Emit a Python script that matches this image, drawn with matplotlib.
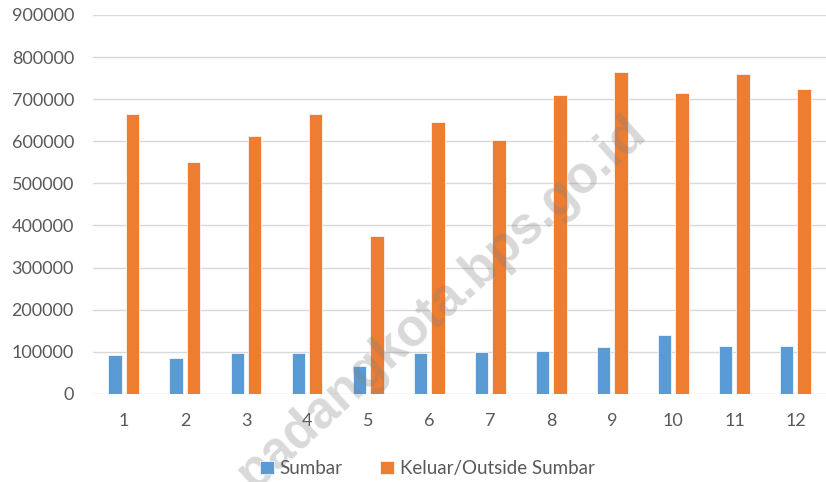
import numpy as np
import matplotlib
matplotlib.use("Agg")
import matplotlib.pyplot as plt

months = ["1", "2", "3", "4", "5", "6", "7", "8", "9", "10", "11", "12"]
sumbar = [92000, 85600, 96800, 95900, 66600, 95900, 98200, 102300, 110100, 138700, 113400, 112500]
outside = [663500, 551700, 613600, 664200, 375700, 646100, 602400, 711000, 763400, 714200, 760300, 722900]

plt.rcParams['font.family'] = ['Lato', 'DejaVu Sans']

fig = plt.figure(figsize=(8.26, 4.82), dpi=100)
ax = fig.add_axes([0.113, 0.183, 0.887, 0.786])

x = np.arange(len(months))
w = 0.22
off = 0.143
ax.bar(x - off, sumbar, w, color="#5B9BD5", edgecolor="white", linewidth=0.5, label="Sumbar", zorder=2)
ax.bar(x + off, outside, w, color="#ED7D31", edgecolor="white", linewidth=0.5, label="Keluar/Outside Sumbar", zorder=2)

ax.set_xlim(-0.5, len(months) - 0.5)
ax.set_ylim(0, 900000)
ax.set_yticks(np.arange(0, 900001, 100000))
ax.set_xticks(x)
ax.set_xticklabels(months)
ax.grid(axis="y", color="#d9d9d9", linewidth=1, zorder=0)
for s in ax.spines.values():
    s.set_visible(False)
ax.tick_params(length=0, colors="#595959", labelsize=13)
ax.tick_params(axis="y", pad=14)
ax.tick_params(axis="x", pad=14)

fig.legend(loc="center", bbox_to_anchor=(0.517, 0.028), ncol=2, frameon=False,
           fontsize=13.5, labelcolor="#595959", handlelength=0.75, handleheight=0.75,
           columnspacing=2.0, handletextpad=0.3)

# watermark
fig.text(0.535, 1 - 303 / 482, "padangkota.bps.go.id", rotation=42, ha="center", va="center",
         family="Liberation Sans", fontsize=37, fontweight="bold", color="#808080",
         alpha=0.3, zorder=5)

fig.savefig("out.png", dpi=100)
